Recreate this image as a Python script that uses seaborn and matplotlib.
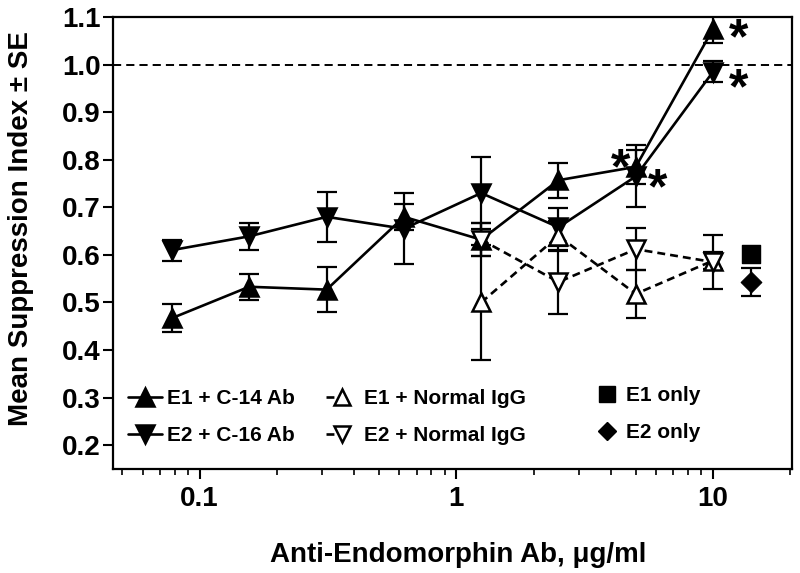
import matplotlib
matplotlib.use("Agg")
import matplotlib.pyplot as plt
import seaborn as sns
import numpy as np
import pandas as pd
from matplotlib.lines import Line2D

# ---- data ----
conc = [0.078, 0.156, 0.3125, 0.625, 1.25, 2.5, 5, 10]
e1_c14 = [0.467, 0.533, 0.527, 0.680, 0.632, 0.757, 0.785, 1.075]
e1_c14_se = [0.030, 0.027, 0.048, 0.027, 0.035, 0.037, 0.036, 0.030]
e2_c16 = [0.610, 0.639, 0.680, 0.655, 0.730, 0.658, 0.765, 0.985]
e2_c16_se = [0.022, 0.028, 0.053, 0.075, 0.075, 0.040, 0.065, 0.022]

conc_ctrl = [1.25, 2.5, 5, 10]
e1_igg = [0.500, 0.640, 0.518, 0.588]
e1_igg_se = [0.120, 0.032, 0.050, 0.018]
e2_igg = [0.632, 0.543, 0.612, 0.585]
e2_igg_se = [0.035, 0.067, 0.044, 0.057]

only_x = [14.1]
e1_only = [0.602]
e2_only = [0.543]
e2_only_se = [0.030]

star_x = [4.35, 6.1, 12.6, 12.6]
star_y = [0.800, 0.758, 1.073, 0.968]

labels = ["E1 + C-14 Ab", "E2 + C-16 Ab", "E1 + Normal IgG", "E2 + Normal IgG", "E1 only", "E2 only"]

# ---- style ----
sns.set_style("ticks")
plt.rcParams['font.family'] = ['Liberation Sans', 'DejaVu Sans']
plt.rcParams['font.weight'] = 'bold'
for k in ['text.color', 'axes.labelcolor', 'xtick.color', 'ytick.color', 'axes.edgecolor']:
    plt.rcParams[k] = 'black'

fig = plt.figure(figsize=(8, 5.73), dpi=100)
ax = fig.add_axes([113/800, 1-469/573, 679/800, 452/573])

ms = 13
lw = 1.9
dash = [3, 1.9]

def series(x, y, se, marker, face, ls):
    df = pd.DataFrame({"x": x, "y": y})
    ax.errorbar(x, y, yerr=se, fmt='none', ecolor='black', elinewidth=1.6,
                capsize=7.5, capthick=1.6, zorder=2)
    sns.lineplot(data=df, x="x", y="y", ax=ax, color='black', linewidth=lw,
                 marker=marker, markersize=ms, markerfacecolor=face,
                 markeredgecolor='black', markeredgewidth=1.8, zorder=3)
    if ls != '-':
        ax.lines[-1].set_dashes(dash)

series(conc, e1_c14, e1_c14_se, '^', 'black', '-')
series(conc, e2_c16, e2_c16_se, 'v', 'black', '-')
series(conc_ctrl, e1_igg, e1_igg_se, '^', 'white', '--')
series(conc_ctrl, e2_igg, e2_igg_se, 'v', 'white', '--')

ax.errorbar(only_x, e2_only, yerr=e2_only_se, fmt='none', ecolor='black',
            elinewidth=1.6, capsize=7.5, capthick=1.6, zorder=2)
sns.scatterplot(x=only_x, y=e1_only, ax=ax, marker='s', s=160, color='black',
                edgecolor='black', zorder=4)
sns.scatterplot(x=only_x, y=e2_only, ax=ax, marker='D', s=110, color='black',
                edgecolor='black', zorder=4)

ax.axhline(1.0, color='black', linewidth=1.4, linestyle=(0, (4.2, 2.6)), zorder=1)

fs_star = 36
for sx, sy in zip(star_x, star_y):
    ax.annotate('*', xy=(sx, sy), xytext=(0, -0.47*fs_star), textcoords='offset points',
                fontsize=fs_star, fontweight='bold', ha='center', va='baseline',
                color='black', zorder=5)

ax.set_xscale('log')
ax.set_xlim(0.046, 20.3)
ax.set_ylim(0.15, 1.1)
yt = np.arange(0.2, 1.11, 0.1)
ax.set_yticks(yt)
ax.set_yticklabels([f"{v:.1f}" for v in yt])
ax.set_xticks([0.1, 1, 10])
ax.set_xticklabels(["0.1", "1", "10"])
ax.tick_params(axis='both', which='major', labelsize=20, length=7, width=1.5,
               direction='out', pad=2)
ax.tick_params(axis='x', which='minor', length=4, width=1.2, direction='out')
ax.tick_params(axis='x', which='major', pad=5)
for s in ax.spines.values():
    s.set_linewidth(1.6)
    s.set_visible(True)
for t in ax.get_xticklabels() + ax.get_yticklabels():
    t.set_fontweight('bold')

ax.set_xlabel("Anti-Endomorphin Ab, μg/ml", fontsize=20, fontweight='bold')
ax.set_ylabel("Mean Suppression Index ± SE", fontsize=20, fontweight='bold')
ax.xaxis.set_label_coords((458-113)/679, (469-555)/452)
ax.xaxis.label.set_va('center')
ax.yaxis.set_label_coords((21-113)/679, (469-229)/452)
ax.yaxis.label.set_va('center')

# ---- legends ----
def h(marker, face, ls, msz=ms):
    ln = Line2D([], [], color='black', linewidth=lw, marker=marker,
                markersize=msz, markerfacecolor=face, markeredgecolor='black',
                markeredgewidth=1.8)
    if ls != '-':
        ln.set_linestyle((0, ls))
    return ln

leg_kw = dict(frameon=False, fontsize=15, borderpad=0, labelspacing=0.88,
              borderaxespad=0, loc='center left')
def ax_xy(px, py):
    return ((px-113)/679, (469-py)/452)

l1 = ax.legend([h('^', 'black', '-'), h('v', 'black', '-')], labels[0:2],
               bbox_to_anchor=ax_xy(128, 417), handlelength=1.63, handletextpad=0.25,
               **leg_kw)
ax.add_artist(l1)
l2 = ax.legend([h('^', 'white', (3.0, 40), 11.5), h('v', 'white', (3.0, 40), 11.5)], labels[2:4],
               bbox_to_anchor=ax_xy(326, 417), handlelength=1.5, handletextpad=0.3,
               **leg_kw)
ax.add_artist(l2)
l3 = ax.legend([Line2D([], [], linestyle='none', marker='s', markersize=11, color='black'),
                Line2D([], [], linestyle='none', marker='D', markersize=9, color='black')],
               labels[4:6], bbox_to_anchor=ax_xy(599, 414), handlelength=0.8,
               handletextpad=0.5, **leg_kw)

fig.savefig("out.png", dpi=100)
